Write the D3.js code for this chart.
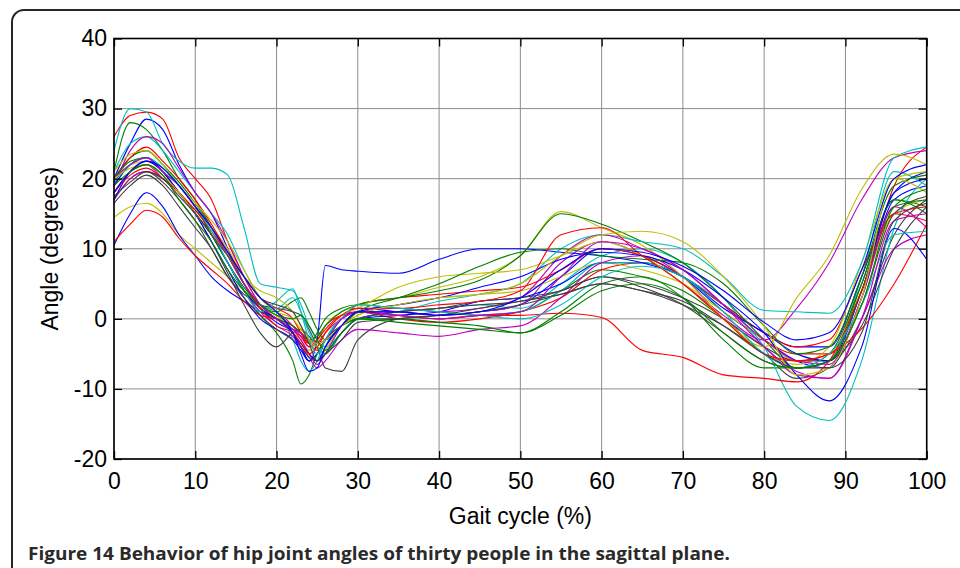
<!DOCTYPE html>
<html><head><meta charset="utf-8">
<script src="https://cdn.jsdelivr.net/npm/d3@7"></script>
<style>html,body{margin:0;padding:0;background:#fff;}svg{display:block;}</style>
</head><body>
<svg id="chart" width="960" height="568"></svg>
<script>
// Gait cycle sample positions (%)
const gaitPct = [0,2,4,6,8,10,12,14,16,18,20,22,23,24,25,26,28,30,35,40,45,50,55,60,65,70,75,80,84,88,92,96,100];
const xTicks = [0,10,20,30,40,50,60,70,80,90,100];
const yTicks = [-20,-10,0,10,20,30,40];
const lineColors = ["#0000ff","#008000","#ff0000","#00bfbf","#bf00bf","#bfbf00","#404040"];

// Hip angle (degrees) of each of the thirty subjects at gaitPct
const s01 = [20,25,28.5,27,22,18,15,10,5,1.5,-0.5,-2,-4,-6,-5,-3,0,1.5,1,0.5,1,2,6,10,9,6,1,-3,-6,-7,3,17,19];
const s02 = [21,28,27,24,20,17,13,9,5,2,0.5,-1,-2,-3.5,-2,0,1.5,2,1.5,1,0.5,1,4,7,6,4,0,-5,-7,-6,5,17,16];
const s03 = [26,29,29.5,28.5,23,20,17,11,6,2,0,-1.5,-2.5,-3.5,-3,-1,0.5,1,0,-0.5,0,1,3,7,8,6,2,-3,-5,-5,4,19,24.5];
const s04 = [24,30,29.5,25,22.5,21.5,21.5,20.5,13,5,4.5,4,2,-1,-3,-4,-2,0,1,1.5,2,1.5,5,9,10,8,3,-4,-7,-6,6,21,19];
const s05 = [18,21,22,20,18,15,12,8,4,2,1,-1,-2.5,-4,-3.5,-2,0,1,1,0.5,1,2,8,11,9,5,0.5,-3,1.5,8,17,23,24];
const s06 = [14.5,16,16.5,15,12,10,8,6,4,1.5,0,-2,-3,-5,-6,-4.5,-1,0.5,2,3,3.5,4,6,8,7,5,1,-3,-6,-5,4,15,17];
const s07 = [17,20,21,19.5,17,14,10,6,3.5,2,1.5,1,0.5,-1.5,-4,-7,-7.5,-3,0,0.5,1,2,3.5,5,4,2,-1,-5,-8.5,-7,0,12,17];
const s08 = [10.5,15,18,16,12,9,6,4,2.5,1,0,-2,-4,-6,-5,-3,-1,0,0.5,1,2.5,3,5,8,8,6,2,-2,-4,-4,6,18,21];
const s09 = [19,22,23,21,19,16,12,8,4,0.5,-2,-6,-9.3,-8,-5,-3,-1,0,0,-0.5,-1,-2,1,5,6,3,-3,-7,-7,-5,5,17,15];
const s10 = [11,13.5,15.5,14.5,11.5,9,7,5,2.5,0.5,0,-1,-2,-3.5,-4.5,-3,0,2,3,3.5,4,4.5,7,10,9,6,2,-2,-4,-3,7,15,16];
const s11 = [19,23,24,22,19,16,13,9,5,2,1,-3,-6,-7.5,-6,-3,0,1,0.5,0,0.5,1,4,8,8,6,2,-4,-12.5,-14.5,-6,13,20];
const s12 = [17,20,21,20,18,15,12,8,4,1,-1,-2.5,-4,-5.5,-7,-6,-3,-1.5,-2,-2.5,-1.5,-1,3,8,9,6,0,-4,-8,-8.5,0,10,12];
const s13 = [20,22,22.5,21,18,15.5,13,10,6,2,0.5,-1.5,-3,-4.5,-3.5,-1,1,2,3,4.5,6,9,15.3,13,10.5,6,0,-5,-6.5,-4,8,20,21];
const s14 = [18,21,22,20.5,18,15,11,6.5,2,-2,-4,-2,-1.5,-2.5,-4,-5,-2,0,1,1.5,2,2.5,4,6,5,3,0,-4,-6,-6,2,15,17.5];
const s15 = [19,22,23,21,18,15,11,7,3,0,-1.5,-3,-4.5,-6,-3,7.6,7,6.8,6.5,8.5,10,10,9.5,9,8,6,1.5,-2,-5,-6,4,18,20];
const s16 = [20,23,24,22,19.5,16.5,13,9.5,5,1.5,0,-1,-2,-3,-2.5,-1,1,2,3,4,5.5,9,15,13.5,11,8,3,-3,-7,-6,4,16,17];
const s17 = [20,23,24.5,22.5,20,17,13.5,9.5,6,3,1.5,0,-2,-4,-3,-1.5,0.5,1,0.5,0,0.5,0.5,0.8,0.2,-4.5,-5.5,-8,-8.5,-9,-6,4,15,14];
const s18 = [21,25,26,24,21,18,15,12,7,3,1.5,3,1,-2,-4,-5,-2,0,1,2.5,3.5,5,10,12,11,10,6,1.2,1,0.8,8,23,24.5];
const s19 = [19,24,26,25,21.5,18,15,11,6,2,0,-1.5,-3,-5,-6.5,-5,-1,1,1.5,1,1.5,3,9,12,10,7,2,-3,-6,-6.5,3,16,13];
const s20 = [21,23.5,24,22,19,16.5,14,11,7,3,1,0,-1.5,-3,-4,-2,0.5,1.5,4.5,6,6.5,7,9,11,9,5,0,-4,3,9,18.5,23.5,22];
const s21 = [16.5,19,20.5,19,16,13,10,6,3,0.5,-1.5,-3,-4,-5.5,-6,-5,-2,0,1,1.5,2.5,3,4,6,4.5,2,-2,-6,-7,-6,-1,10,16];
const s22 = [17,21,22.5,21,18,15,12,8,4,1.5,0,-2,-3.5,-5,-6,-4,-1,1,2,3,4.5,6,8.5,9.5,9,7,3,-2,-8,-11.7,-4,12.9,8.5];
const s23 = [20,22.5,23,21.5,19,16,12,8,4.5,2,1,2.5,3,1,-1.5,-3,-1,1,3,5,7.5,9.5,10,9,8.5,8,5,-1,-5,-4,6,19,20.5];
const s24 = [18,20.5,21.5,20,18,15.5,12.5,9,5,1.5,-1,-2,-3.5,-5,-4,-2,0.5,1.5,1.5,2,2.5,4,12,13,9,5,0,-5,-6,-5,-1.4,5,13.5];
const s25 = [19.5,22,23,21.5,19,16,12.5,8,4,1,2.5,4.3,1,-3,-5,-3,0,2,1.5,1,0.5,0,2,6,7.5,6,1,-5,-7,-5,2,12,12.5];
const s26 = [20,22,23,21,19,16,13,9,5,2,0,-1.5,-2,-3,-3.5,-3,0,1,0.5,0,0.5,1,6,11,10,7,2,-4,-7.5,-8.5,0,14,15];
const s27 = [20,21.5,22,20.5,18,15,12,9,6,4,3,1,-1,-3,-3.5,-3,-1,0.5,2,3,3.5,5,9,12,12.5,11,6,-1,-8,-7,3,20,18];
const s28 = [17.5,19.5,21,20,17.5,15,12,9,6,3,2,1,-1,-3.5,-6,-5,-3,-0.5,0,0.5,1.5,2.5,3.5,5,4,2.5,-1,-5,-7,-7,-2,14,16.5];
const s29 = [18,21,22.5,21.5,19,16,13,9.5,6,3,1,-2,-5,-7.5,-7,-4,-1,1,1,0.5,1,3,7,10,9.5,7.5,4,-0.5,-3,-2,7,20,22];
const s30 = [19,21,22,20.5,17,14,11,7,4,2,0.5,0,0.5,-1,-3,-4.5,-2,0,-0.5,-1,-1.5,-2,0.5,4,5,3,-2,-6,-7,-6,2,16,18.5];
const subjects = [s01,s02,s03,s04,s05,s06,s07,s08,s09,s10,s11,s12,s13,s14,s15,s16,s17,s18,s19,s20,s21,s22,s23,s24,s25,s26,s27,s28,s29,s30];

const svg = d3.select("#chart");
const L = 114, R = 926.7, T = 38.5, B = 459;
const x = d3.scaleLinear().domain([0,100]).range([L,R]);
const y = d3.scaleLinear().domain([-20,40]).range([B,T]);
const axisFont = "'Liberation Sans', Arial, Helvetica, sans-serif";
const fmt = d => String(d);

// outer rounded frame
svg.append("rect").attr("x",12).attr("y",10).attr("width",1000).attr("height",700)
  .attr("rx",12).attr("fill","none").attr("stroke","#262626").attr("stroke-width",2);

// grid
const grid = svg.append("g");
xTicks.forEach(t => grid.append("line").attr("x1",x(t)).attr("x2",x(t)).attr("y1",T).attr("y2",B)
  .attr("stroke","#8c8c8c").attr("stroke-width",1));
yTicks.forEach(t => grid.append("line").attr("x1",L).attr("x2",R).attr("y1",y(t)).attr("y2",y(t))
  .attr("stroke","#8c8c8c").attr("stroke-width",1));

// data lines
const line = d3.line().x((d,i)=>x(gaitPct[i])).y(d=>y(d)).curve(d3.curveMonotoneX);
svg.append("g").selectAll("path").data(subjects).join("path")
  .attr("d", line).attr("fill","none")
  .attr("stroke",(d,i)=>lineColors[i%lineColors.length]).attr("stroke-width",1.1);

// axes (box with inward ticks)
const tl = 8;
const axB = svg.append("g").attr("transform",`translate(0,${B})`)
  .call(d3.axisBottom(x).tickValues(xTicks).tickFormat(fmt).tickSizeInner(-tl).tickSizeOuter(0).tickPadding(14));
const axT = svg.append("g").attr("transform",`translate(0,${T})`)
  .call(d3.axisTop(x).tickValues(xTicks).tickSizeInner(-tl).tickSizeOuter(0).tickFormat(""));
const axL = svg.append("g").attr("transform",`translate(${L},0)`)
  .call(d3.axisLeft(y).tickValues(yTicks).tickFormat(fmt).tickSizeInner(-tl).tickSizeOuter(0).tickPadding(7));
const axR = svg.append("g").attr("transform",`translate(${R},0)`)
  .call(d3.axisRight(y).tickValues(yTicks).tickSizeInner(-tl).tickSizeOuter(0).tickFormat(""));
[axB,axT,axL,axR].forEach(g=>{
  g.select(".domain").remove();
  g.selectAll(".tick line").attr("stroke","#000").attr("stroke-width",1.3);
  g.selectAll("text").attr("font-family",axisFont).attr("font-size",23).attr("fill","#000");
});
axB.selectAll("text").attr("dy","0.71em");
svg.append("rect").attr("x",L).attr("y",T).attr("width",R-L).attr("height",B-T)
  .attr("fill","none").attr("stroke","#000").attr("stroke-width",1.6);

// axis titles
svg.append("text").attr("x",(L+R)/2).attr("y",524).attr("text-anchor","middle")
  .attr("font-family",axisFont).attr("font-size",23).text("Gait cycle (%)");
svg.append("text").attr("transform",`translate(58,${(T+B)/2}) rotate(-90)`).attr("text-anchor","middle")
  .attr("font-family",axisFont).attr("font-size",23).text("Angle (degrees)");

// caption
svg.append("text").attr("x",28).attr("y",560)
  .attr("font-family","'Open Sans', 'Noto Sans', sans-serif").attr("font-weight","bold")
  .attr("font-size",17).attr("fill","#2a2a2a")
  .attr("textLength",702).attr("lengthAdjust","spacingAndGlyphs")
  .text("Figure 14 Behavior of hip joint angles of thirty people in the sagittal plane.");
</script>
</body></html>
